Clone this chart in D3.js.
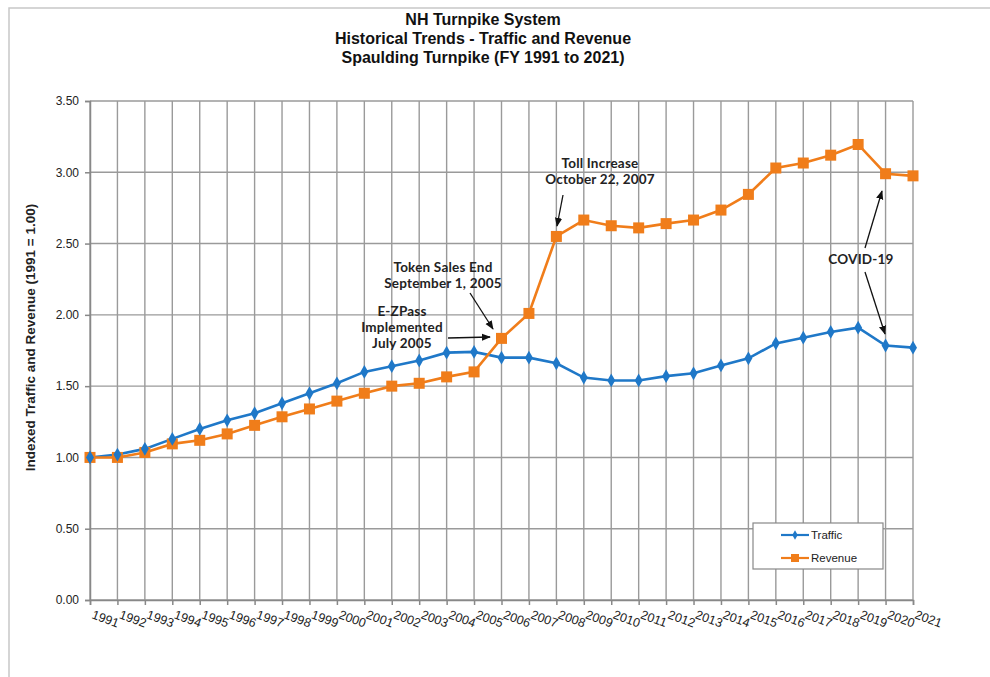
<!DOCTYPE html>
<html><head><meta charset="utf-8">
<script src="https://cdn.jsdelivr.net/npm/d3@7"></script>
<style>body{margin:0;background:#fff;} svg{display:block;}</style>
</head><body>
<svg id="c" width="990" height="677"></svg>
<script>
const years = d3.range(1991, 2022).map(String);
const traffic = [1.00,1.02,1.06,1.13,1.20,1.26,1.31,1.38,1.45,1.52,1.60,1.64,1.68,1.735,1.74,1.70,1.70,1.66,1.56,1.54,1.54,1.57,1.59,1.645,1.695,1.80,1.84,1.88,1.91,1.785,1.77];
const revenue = [1.00,1.00,1.035,1.095,1.12,1.165,1.225,1.285,1.34,1.395,1.45,1.50,1.52,1.565,1.60,1.835,2.01,2.55,2.665,2.625,2.61,2.64,2.665,2.735,2.845,3.03,3.065,3.12,3.195,2.99,2.975];
const yTicks = [0,0.5,1,1.5,2,2.5,3,3.5];
const titleLines = ["NH Turnpike System","Historical Trends - Traffic and Revenue","Spaulding Turnpike (FY 1991 to 2021)"];
const seriesNames = ["Traffic","Revenue"];

const svg = d3.select("#c");
// outer frame
svg.append("rect").attr("x",9).attr("y",8).attr("width",1000).attr("height",700)
  .attr("fill","none").attr("stroke","#c8c8c8").attr("stroke-width",1.5);

const L=90,R=913,T=101,B=600;
const x = d3.scalePoint().domain(years).range([L,R]);
const y = d3.scaleLinear().domain([0,3.5]).range([B,T]);

svg.append("g").selectAll("text").data(titleLines).join("text")
  .attr("x",483).attr("y",(d,i)=>25+i*19).attr("text-anchor","middle")
  .attr("font-family","'Liberation Sans Narrow','Arial Narrow','Liberation Sans',Arial,sans-serif")
  .attr("font-weight","bold").attr("font-size",16).attr("fill","#111").text(d=>d);

// grid
const grid = svg.append("g").attr("stroke","#9a9a9a").attr("stroke-width",1.4);
grid.selectAll("line.h").data(yTicks).join("line").attr("class","h")
  .attr("x1",L).attr("x2",R).attr("y1",d=>y(d)).attr("y2",d=>y(d));
grid.selectAll("line.v").data(years).join("line").attr("class","v")
  .attr("y1",T).attr("y2",B).attr("x1",d=>x(d)).attr("x2",d=>x(d));

// axes
const ya = svg.append("g").attr("transform",`translate(${L},0)`)
  .call(d3.axisLeft(y).tickValues(yTicks).tickFormat(d3.format(".2f")).tickSize(5).tickPadding(6));
ya.select(".domain").attr("stroke","#888").attr("stroke-width",1.5);
ya.selectAll("line").attr("stroke","#888").attr("stroke-width",1.5);
ya.selectAll("text").attr("font-family","'Liberation Sans',Arial,sans-serif").attr("font-size",12).attr("fill","#222");

const xa = svg.append("g").attr("transform",`translate(0,${B})`)
  .call(d3.axisBottom(x).tickSize(5).tickFormat(()=>""));
xa.select(".domain").attr("stroke","#888").attr("stroke-width",1.5);
xa.selectAll("line").attr("stroke","#888").attr("stroke-width",1.5);
svg.append("g").selectAll("text").data(years).join("text")
  .attr("transform",d=>`translate(${x(d)+1},${B+18}) rotate(20)`)
  .attr("font-family","'Liberation Sans',Arial,sans-serif").attr("font-size",12.5).attr("fill","#222")
  .text(d=>d);

svg.append("text").attr("transform",`translate(35,${(T+B)/2-13}) rotate(-90)`).attr("text-anchor","middle")
  .attr("font-family","'Liberation Sans',Arial,sans-serif").attr("font-weight","bold").attr("font-size",13.5)
  .attr("fill","#222").text("Indexed Traffic and Revenue (1991 = 1.00)");

// lines
const colors = ["#1f78c8","#f07d1a"];
const line = d3.line().x((d,i)=>x(years[i])).y(d=>y(d));
[traffic,revenue].forEach((s,k)=>{
  svg.append("path").datum(s).attr("d",line).attr("fill","none").attr("stroke",colors[k]).attr("stroke-width",2.6);
});
svg.append("g").selectAll("rect").data(revenue).join("rect")
  .attr("x",(d,i)=>x(years[i])-5.5).attr("y",d=>y(d)-5.5).attr("width",11).attr("height",11).attr("fill",colors[1]);
const diamond = d3.symbol().type(d3.symbolDiamond).size(55);
svg.append("g").selectAll("path").data(traffic).join("path")
  .attr("transform",(d,i)=>`translate(${x(years[i])},${y(d)})`).attr("d",diamond).attr("fill",colors[0]);

// legend
const lg = svg.append("g");
lg.append("rect").attr("x",753).attr("y",523).attr("width",130).attr("height",46).attr("fill","#fff").attr("stroke","#888").attr("stroke-width",1.2);
seriesNames.forEach((n,k)=>{
  const yy = 535 + k*23;
  lg.append("line").attr("x1",781).attr("x2",809).attr("y1",yy).attr("y2",yy).attr("stroke",colors[k]).attr("stroke-width",2.2);
  if(k===0) lg.append("path").attr("transform",`translate(795,${yy})`).attr("d",d3.symbol().type(d3.symbolDiamond).size(25)).attr("fill",colors[0]);
  else lg.append("rect").attr("x",791).attr("y",yy-4).attr("width",8).attr("height",8).attr("fill",colors[1]);
  lg.append("text").attr("x",811).attr("y",yy+4).attr("font-family","'Liberation Sans',Arial,sans-serif").attr("font-size",11.5).attr("fill","#222").text(n);
});

// annotations
const defs = svg.append("defs");
defs.append("marker").attr("id","ah").attr("viewBox","0 0 10 10").attr("refX",9).attr("refY",5)
  .attr("markerWidth",7).attr("markerHeight",7).attr("orient","auto")
  .append("path").attr("d","M0,1 L10,5 L0,9 z").attr("fill","#111");
const af = "'Lato','Noto Sans',sans-serif";
const notes = [
  {lines:["Toll Increase","October 22, 2007"],x:600,y:168},
  {lines:["Token Sales End","September 1, 2005"],x:443,y:272},
  {lines:["E-ZPass","Implemented","July 2005"],x:402,y:316},
  {lines:["COVID-19"],x:861,y:264}
];
notes.forEach(n=>{
  svg.append("g").selectAll("text").data(n.lines).join("text").attr("x",n.x).attr("y",(d,i)=>n.y+i*16)
    .attr("text-anchor","middle").attr("font-family",af).attr("font-weight","bold").attr("font-size",13.5)
    .attr("letter-spacing",0.2).attr("fill","#222").text(d=>d);
});
const arrows = [[563,195,557,226],[470,293,493,329],[448,338,490,337],[865,248,882,191],[865,272,885,334]];
svg.append("g").selectAll("line").data(arrows).join("line")
  .attr("x1",d=>d[0]).attr("y1",d=>d[1]).attr("x2",d=>d[2]).attr("y2",d=>d[3])
  .attr("stroke","#111").attr("stroke-width",1.3).attr("marker-end","url(#ah)");
</script>
</body></html>
